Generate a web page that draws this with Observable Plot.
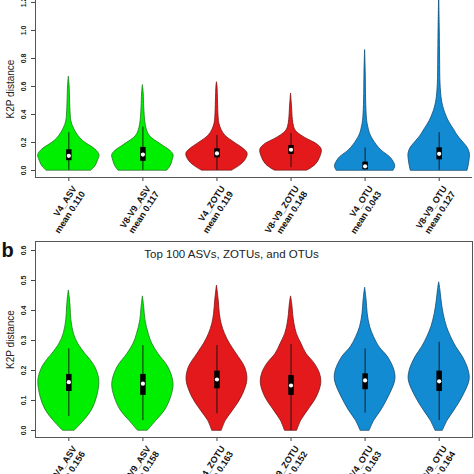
<!DOCTYPE html>
<html><head><meta charset="utf-8">
<script src="https://cdn.jsdelivr.net/npm/d3@7"></script>
<script src="https://cdn.jsdelivr.net/npm/@observablehq/plot@0.6"></script>
<style>
html,body{margin:0;padding:0;background:#fff;}
#chart{width:474px;height:474px;overflow:hidden;}
#chart svg{display:block;}
</style>
</head><body><div id="chart"></div>
<script>
// ---- data ----
const groups = ["V4_ASV", "V8-V9_ASV", "V4_ZOTU", "V8-V9_ZOTU", "V4_OTU", "V8-V9_OTU"];
const meansA = ["0.110", "0.117", "0.119", "0.148", "0.043", "0.127"];
const meansB = ["0.156", "0.158", "0.163", "0.152", "0.163", "0.164"];
const yTicksA = [0, 0.2, 0.4, 0.6, 0.8, 1.0, 1.2];
const yTicksB = [0, 0.1, 0.2, 0.3, 0.4, 0.5, 0.6];
const titleB = "Top 100 ASVs, ZOTUs, and OTUs";
const yLabel = "K2P distance";

// violin profiles: [K2P distance, relative density]
const a1 = [[0,22],[0.03,26],[0.07,28.5],[0.11,30],[0.15,26],[0.18,20],[0.21,14],[0.25,9],[0.3,5],[0.35,2.5],[0.4,1.8],[0.5,1.2],[0.6,0.8],[0.67,0]];
const a2 = [[0,24],[0.03,27],[0.07,29],[0.11,30],[0.14,27],[0.17,21],[0.2,15],[0.23,9],[0.26,5.5],[0.3,3.5],[0.35,2.3],[0.45,1.3],[0.55,0.8],[0.61,0]];
const a3 = [[0,15],[0.035,22.5],[0.07,27.5],[0.12,30],[0.16,25],[0.19,19],[0.22,13],[0.25,8],[0.29,4.5],[0.33,2.5],[0.38,1.6],[0.5,1],[0.6,0.5],[0.63,0]];
const a4 = [[0,16],[0.04,24],[0.09,28.3],[0.15,30],[0.19,25],[0.22,17],[0.25,10],[0.28,5],[0.31,3],[0.36,1.8],[0.45,1],[0.55,0]];
const a5 = [[0,28],[0.03,29.5],[0.06,28],[0.095,24.5],[0.12,20],[0.143,16],[0.18,11.5],[0.214,8.3],[0.25,5.5],[0.286,3.8],[0.33,2.5],[0.38,1.7],[0.5,1],[0.7,0.6],[0.86,0]];
const a6 = [[0,27.8],[0.04,29],[0.08,29.8],[0.12,30],[0.16,28],[0.214,22],[0.25,18],[0.286,15],[0.32,12],[0.357,9],[0.4,6.5],[0.43,5],[0.5,2.7],[0.62,1.3],[0.8,0.9],[1.0,0.6],[1.26,0]];

const b1 = [[0,6],[0.033,15],[0.067,22.5],[0.11,27.5],[0.167,29.8],[0.21,26],[0.24,20],[0.256,16],[0.29,9],[0.322,5],[0.367,2.5],[0.41,1.7],[0.44,1],[0.467,0]];
const b2 = [[0,5],[0.033,13.3],[0.067,21.7],[0.11,27.5],[0.156,30],[0.21,25],[0.256,15],[0.29,9],[0.322,5.7],[0.367,2.5],[0.41,1.3],[0.447,0]];
const b3 = [[0,4.7],[0.033,8.7],[0.067,15.8],[0.11,24],[0.167,29.7],[0.21,27.5],[0.256,19],[0.29,12.5],[0.322,7.8],[0.356,4.5],[0.389,2.8],[0.433,1.7],[0.483,0]];
const b4 = [[0,6],[0.033,10],[0.067,16.7],[0.11,25],[0.156,29.5],[0.189,28.3],[0.222,23.3],[0.256,15],[0.29,10],[0.322,5.7],[0.356,3.3],[0.389,2],[0.42,1.2],[0.447,0]];
const b5 = [[0,4.5],[0.033,9],[0.067,15.8],[0.11,22.8],[0.167,29.5],[0.2,28.7],[0.244,22.5],[0.278,14],[0.311,8.8],[0.344,5],[0.389,2.5],[0.433,1.5],[0.476,0]];
const b6 = [[0,3.7],[0.033,8.3],[0.067,15],[0.11,22.7],[0.167,29.7],[0.2,28.8],[0.244,23.3],[0.278,16.7],[0.311,11.7],[0.344,7.7],[0.389,4.3],[0.433,2.3],[0.467,1.2],[0.494,0]];

// box-plot statistics
const whiskerLoA = [0, 0, 0, 0.02, 0, 0];
const q1A        = [0.07, 0.065, 0.09, 0.115, 0.005, 0.076];
const medianA    = [0.105, 0.114, 0.122, 0.148, 0.03, 0.119];
const q3A        = [0.148, 0.165, 0.155, 0.178, 0.06, 0.162];
const whiskerHiA = [0.27, 0.31, 0.25, 0.265, 0.16, 0.27];

const whiskerLoB = [0.047, 0.033, 0.056, 0.0, 0.058, 0.033];
const q1B        = [0.13, 0.117, 0.139, 0.117, 0.136, 0.13];
const medianB    = [0.161, 0.156, 0.17, 0.15, 0.167, 0.164];
const q3B        = [0.187, 0.187, 0.198, 0.183, 0.189, 0.198];
const whiskerHiB = [0.272, 0.283, 0.283, 0.287, 0.272, 0.294];

// ---- styles ----
const fills   = ["#00EE00", "#00EE00", "#E3191C", "#E3191C", "#138BD3", "#138BD3"];
const strokes = ["#1F7A1F", "#1F7A1F", "#7A1414", "#7A1414", "#124D73", "#124D73"];
const FONT = "'Liberation Sans', Arial, Helvetica, sans-serif";
const DW = 0.0138; // density -> half-width in category units

function panel({profiles, means, wl, q1, med, q3, wh, yDomain, yTicks, height, marginTop, marginBottom, boxed, extra}) {
  const stats = groups.map((g, i) => ({x: i + 1, name: g, mean: "mean " + means[i], wl: wl[i], q1: q1[i], med: med[i], q3: q3[i], wh: wh[i]}));
  const marks = [];
  profiles.forEach((p, i) => {
    const rows = p.map(([v, d]) => ({v, lo: i + 1 - d * DW, hi: i + 1 + d * DW}));
    marks.push(Plot.areaX(rows, {y: "v", x1: "lo", x2: "hi", fill: fills[i], stroke: strokes[i], strokeWidth: 0.8, curve: "catmull-rom", clip: true}));
  });
  marks.push(
    Plot.ruleX(stats, {x: "x", y1: "wl", y2: "wh", stroke: "#111", strokeWidth: 0.9}),
    Plot.ruleX(stats, {x: "x", y1: "q1", y2: "q3", stroke: "#000", strokeWidth: 5.5}),
    Plot.dot(stats, {x: "x", y: "med", r: 2.1, fill: "#fff", stroke: "none"}),
    Plot.axisY({ticks: yTicks, tickSize: 4, tickFormat: () => "", stroke: "#444"}),
    Plot.text(yTicks, {y: d => d, frameAnchor: "left", dx: -12, rotate: -90, text: d => d.toFixed(1), fontSize: 7, fontWeight: "bold", textAnchor: "middle", lineAnchor: "middle", fill: "#222"}),
    Plot.text([yLabel], {frameAnchor: "left", dx: -25, rotate: -90, fontSize: 10, textAnchor: "middle", lineAnchor: "middle", fill: "#222"}),
    Plot.axisX({ticks: [1, 2, 3, 4, 5, 6], tickSize: 4, tickFormat: () => "", stroke: "#444"}),
    Plot.text(stats, {x: "x", frameAnchor: "bottom", text: "name", rotate: -57, textAnchor: "end", lineAnchor: "middle", dx: 5.8, dy: 9.3, fontSize: 9, fontWeight: "bold", fill: "#111"}),
    Plot.text(stats, {x: "x", frameAnchor: "bottom", text: "mean", rotate: -57, textAnchor: "end", lineAnchor: "middle", dx: 14.2, dy: 14.7, fontSize: 9, fontWeight: "bold", fill: "#111"})
  );
  if (boxed) marks.push(Plot.frame({stroke: "#555"}));
  else marks.push(Plot.ruleY([yDomain[0]], {stroke: "#555"}), Plot.ruleX([0.55], {stroke: "#555"}));
  if (extra) marks.push(...extra);
  return Plot.plot({
    width: 474, height, marginLeft: 35, marginRight: 2, marginTop, marginBottom,
    x: {type: "linear", domain: [0.55, 6.45]},
    y: {domain: yDomain},
    style: {fontFamily: FONT, background: "white", overflow: "visible"},
    marks
  });
}

const panelA = panel({
  profiles: [a1, a2, a3, a4, a5, a6], means: meansA,
  wl: whiskerLoA, q1: q1A, med: medianA, q3: q3A, wh: whiskerHiA,
  yDomain: [-0.05, 1.214], yTicks: yTicksA, height: 238, marginTop: 0, marginBottom: 61, boxed: false
});
const panelB = panel({
  profiles: [b1, b2, b3, b4, b5, b6], means: meansB,
  wl: whiskerLoB, q1: q1B, med: medianB, q3: q3B, wh: whiskerHiB,
  yDomain: [-0.0233, 0.63], yTicks: yTicksB, height: 236, marginTop: 3, marginBottom: 37, boxed: true,
  extra: [
    Plot.text(["b"], {frameAnchor: "top-left", dx: -34, dy: 8.6, textAnchor: "start", lineAnchor: "middle", fontSize: 20, fontWeight: "bold", fill: "#111"}),
    Plot.text([titleB], {frameAnchor: "top-left", dx: 196, dy: 13.3, textAnchor: "middle", lineAnchor: "middle", fontSize: 11.5, fill: "#222"})
  ]
});
document.getElementById("chart").append(panelA, panelB);
</script>
</body></html>
